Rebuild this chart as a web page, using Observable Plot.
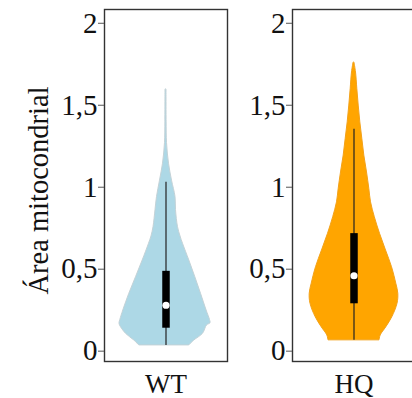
<!DOCTYPE html>
<html>
<head>
<meta charset="utf-8">
<script src="https://cdn.jsdelivr.net/npm/d3@7"></script>
<script src="https://cdn.jsdelivr.net/npm/@observablehq/plot@0.6"></script>
<style>
  body { margin: 0; background: #fff; }
  #c { position: relative; width: 412px; height: 398px; overflow: hidden; background: #fff; }
  #c svg { position: absolute; top: 0; }
</style>
</head>
<body>
<div id="c"></div>
<script>
// Categories and colours
const groups = ["WT", "HQ"];
const fills = ["#ADD8E6", "#FFA500"];
const outlines = ["#c3d2d7", "#f3a21a"];
const yTicks = [0, 0.5, 1, 1.5, 2];
const yTitle = "Área mitocondrial";

// Violin profiles (value, left half-width, right half-width)
const wtValue = [1.594, 1.40, 1.27, 1.143, 1.04, 0.94, 0.86, 0.756, 0.70, 0.655, 0.553, 0.451, 0.35, 0.248, 0.19, 0.17, 0.157, 0.106, 0.065, 0.035];
const wtLeft  = [0.5, 0.6, 1.0, 3, 6, 9, 10.5, 12.5, 14.5, 17, 23.3, 30, 36.7, 42.7, 45.7, 46.5, 46, 40, 31.7, 26.7];
const wtRight = [0.5, 0.6, 1.0, 3, 6, 9.5, 10, 12, 14.5, 17, 23.3, 29.3, 35, 40.6, 44, 44.5, 41, 37, 28.3, 23.3];

const hqValue = [1.758, 1.70, 1.60, 1.498, 1.396, 1.295, 1.193, 1.09, 0.99, 0.908, 0.817, 0.716, 0.614, 0.512, 0.411, 0.35, 0.289, 0.207, 0.146, 0.096, 0.066];
const hqLeft  = [0.5, 2, 3.3, 4.7, 6.3, 8.3, 10.3, 13, 15.3, 17, 20.8, 26, 32, 38, 42.3, 44.3, 43.5, 38.3, 32.3, 26.7, 25.5];
const hqRight = hqLeft;

// Box-plot summaries per group
const whiskerLow  = [0.035, 0.066];
const whiskerHigh = [1.03, 1.353];
const q1 = [0.14, 0.289];
const q3 = [0.487, 0.717];
const median = [0.28, 0.46];

const profiles = [
  wtValue.map((v, j) => ({v, l: wtLeft[j], r: wtRight[j]})),
  hqValue.map((v, j) => ({v, l: hqLeft[j], r: hqRight[j]}))
];

const fmt = d => String(d).replace(".", ",");

function panel(i) {
  return Plot.plot({
    width: 229,
    height: 398,
    marginLeft: 104,
    marginRight: 2,
    marginTop: 9,
    marginBottom: 37,
    style: {fontFamily: "Liberation Serif", fontSize: "27px", background: "transparent", color: "#111", overflow: "visible"},
    x: {domain: [-61.5, 61.5]},
    y: {domain: [-0.063, 2.084]},
    marks: [
      Plot.areaX(profiles[i], {y: "v", x1: d => -d.l, x2: "r", fill: fills[i], stroke: outlines[i], strokeWidth: 1, curve: "catmull-rom"}),
      Plot.ruleX([i], {x: () => 0, y1: d => whiskerLow[d], y2: d => whiskerHigh[d], stroke: "#222", strokeWidth: 1.2}),
      Plot.ruleX([i], {x: () => 0, y1: d => q1[d], y2: d => q3[d], stroke: "#000", strokeWidth: 7.5}),
      Plot.dot([i], {x: () => 0, y: d => median[d], r: 3.6, fill: "#fff", stroke: "none"}),
      Plot.frame({stroke: "#333", strokeWidth: 1.4}),
      Plot.axisY({ticks: yTicks, tickFormat: fmt, tickSize: 6, tickPadding: 1, stroke: "#555", fontSize: 29, label: null}),
      Plot.axisX({ticks: [0], tickFormat: () => groups[i], tickSize: 0, tickPadding: 12, label: null}),
      ...(i === 0 ? [Plot.text([yTitle], {text: d => d, frameAnchor: "left", textAnchor: "middle", lineAnchor: "middle", rotate: -90, dx: -66, dy: 5, fontSize: 28.5, fill: "#111"})] : [])
    ]
  });
}

const c = document.getElementById("c");
const left = panel(0);
left.style.left = "0px";
c.appendChild(left);
const right = panel(1);
right.style.left = "188px";
c.appendChild(right);
</script>
</body>
</html>
